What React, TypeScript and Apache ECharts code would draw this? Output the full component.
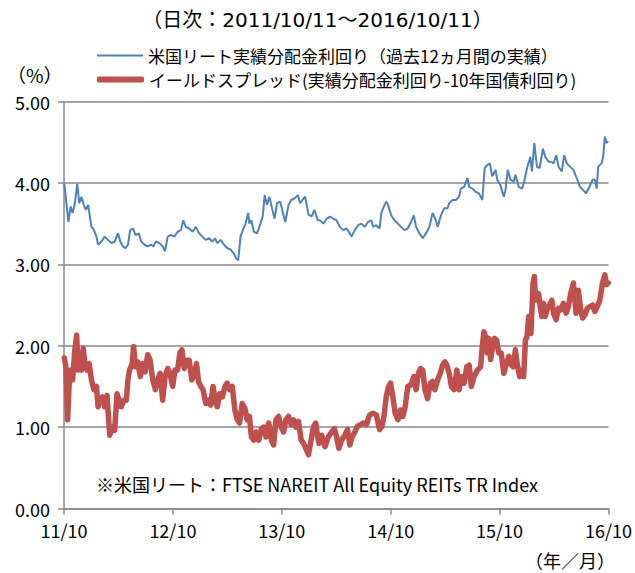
import { useEffect, useRef } from "react";
import * as echarts from "echarts";

// x = years elapsed since 2011/10/11
const xTickLabels = ["11/10", "12/10", "13/10", "14/10", "15/10", "16/10"];
const seriesNames = [
  "米国リート実績分配金利回り（過去12ヵ月間の実績）",
  "イールドスプレッド(実績分配金利回り-10年国債利回り)",
];
const titleText = "（日次：2011/10/11～2016/10/11）";
const noteText = "※米国リート：FTSE NAREIT All Equity REITs TR Index";
const unitY = "（%）";
const unitX = "（年／月）";

const reitYield: [number, number][] = [
  [0.0, 3.97], [0.003, 3.99], [0.024, 3.73], [0.04, 3.52], [0.061, 3.71], [0.079, 3.63],
  [0.1, 3.75], [0.122, 3.99], [0.14, 3.75], [0.161, 3.83], [0.182, 3.73], [0.201, 3.67],
  [0.222, 3.73], [0.237, 3.59], [0.252, 3.46], [0.268, 3.44], [0.298, 3.34], [0.313, 3.24],
  [0.344, 3.28], [0.374, 3.34], [0.404, 3.3], [0.435, 3.26], [0.465, 3.28], [0.496, 3.38],
  [0.517, 3.28], [0.541, 3.22], [0.566, 3.2], [0.587, 3.24], [0.608, 3.42], [0.633, 3.44],
  [0.657, 3.36], [0.687, 3.38], [0.709, 3.28], [0.739, 3.24], [0.769, 3.22], [0.8, 3.24],
  [0.821, 3.22], [0.845, 3.28], [0.876, 3.26], [0.906, 3.22], [0.928, 3.16], [0.952, 3.34],
  [0.982, 3.36], [1.013, 3.34], [1.043, 3.4], [1.074, 3.42], [1.095, 3.54], [1.119, 3.46],
  [1.15, 3.44], [1.18, 3.4], [1.21, 3.46], [1.241, 3.38], [1.271, 3.34], [1.302, 3.3],
  [1.332, 3.32], [1.363, 3.28], [1.387, 3.32], [1.408, 3.26], [1.439, 3.3], [1.469, 3.24],
  [1.499, 3.2], [1.53, 3.18], [1.56, 3.13], [1.582, 3.07], [1.6, 3.05], [1.621, 3.34],
  [1.642, 3.42], [1.667, 3.5], [1.691, 3.63], [1.703, 3.5], [1.721, 3.54], [1.743, 3.4],
  [1.773, 3.38], [1.804, 3.5], [1.825, 3.59], [1.843, 3.85], [1.864, 3.73], [1.886, 3.83],
  [1.91, 3.69], [1.934, 3.56], [1.956, 3.75], [1.986, 3.77], [2.007, 3.65], [2.032, 3.52],
  [2.062, 3.73], [2.086, 3.79], [2.117, 3.81], [2.147, 3.85], [2.168, 3.75], [2.19, 3.79],
  [2.214, 3.83], [2.245, 3.61], [2.275, 3.59], [2.299, 3.67], [2.33, 3.54], [2.351, 3.54],
  [2.381, 3.5], [2.412, 3.56], [2.442, 3.585], [2.473, 3.56], [2.503, 3.54], [2.533, 3.46],
  [2.564, 3.42], [2.594, 3.44], [2.625, 3.38], [2.64, 3.34], [2.67, 3.42], [2.701, 3.48],
  [2.731, 3.5], [2.762, 3.46], [2.792, 3.52], [2.822, 3.54], [2.838, 3.46], [2.868, 3.48],
  [2.898, 3.44], [2.914, 3.63], [2.944, 3.73], [2.959, 3.77], [2.975, 3.73], [3.005, 3.6],
  [3.035, 3.54], [3.066, 3.5], [3.096, 3.46], [3.127, 3.42], [3.157, 3.44], [3.187, 3.52],
  [3.212, 3.6], [3.233, 3.46], [3.263, 3.38], [3.294, 3.32], [3.324, 3.38], [3.355, 3.46],
  [3.385, 3.63], [3.415, 3.54], [3.431, 3.46], [3.461, 3.6], [3.492, 3.69], [3.522, 3.69],
  [3.537, 3.75], [3.568, 3.79], [3.598, 3.79], [3.628, 3.83], [3.644, 3.93], [3.674, 3.95],
  [3.704, 4.06], [3.72, 3.95], [3.75, 3.93], [3.781, 3.89], [3.811, 3.87], [3.841, 3.79],
  [3.863, 4.18], [3.887, 4.22], [3.911, 4.24], [3.932, 4.08], [3.963, 4.16], [3.978, 4.04],
  [4.008, 3.97], [4.039, 3.83], [4.054, 3.91], [4.075, 4.16], [4.1, 4.04], [4.13, 4.015],
  [4.145, 4.1], [4.176, 3.95], [4.206, 3.93], [4.221, 3.99], [4.252, 4.18], [4.282, 4.32],
  [4.297, 4.14], [4.319, 4.49], [4.343, 4.2], [4.367, 4.18], [4.398, 4.42], [4.419, 4.32],
  [4.45, 4.26], [4.471, 4.26], [4.495, 4.24], [4.52, 4.34], [4.541, 4.2], [4.571, 4.14],
  [4.593, 4.34], [4.617, 4.24], [4.647, 4.2], [4.678, 4.16], [4.708, 4.06], [4.739, 3.95],
  [4.769, 3.91], [4.793, 3.87], [4.824, 3.95], [4.854, 4.04], [4.875, 4.04], [4.891, 3.93],
  [4.906, 4.2], [4.936, 4.24], [4.951, 4.32], [4.967, 4.57], [4.982, 4.49], [4.997, 4.51],
];

const yieldSpread: [number, number][] = [
  [0.003, 1.85], [0.018, 1.74], [0.033, 1.09], [0.049, 1.58], [0.064, 1.7], [0.079, 1.58],
  [0.1, 1.95], [0.116, 2.13], [0.131, 1.7], [0.146, 1.87], [0.161, 1.7], [0.176, 1.97],
  [0.192, 1.78], [0.213, 1.7], [0.231, 1.78], [0.252, 1.58], [0.274, 1.46], [0.298, 1.5],
  [0.313, 1.25], [0.328, 1.33], [0.353, 1.37], [0.374, 1.25], [0.395, 1.39], [0.42, 0.9],
  [0.444, 1.0], [0.465, 0.96], [0.487, 1.41], [0.505, 1.33], [0.526, 1.25], [0.547, 1.33],
  [0.572, 1.33], [0.587, 1.58], [0.602, 1.7], [0.627, 1.78], [0.639, 1.99], [0.657, 1.74],
  [0.678, 1.8], [0.7, 1.62], [0.724, 1.78], [0.745, 1.68], [0.769, 1.89], [0.791, 1.82],
  [0.815, 1.58], [0.839, 1.46], [0.861, 1.58], [0.882, 1.66], [0.906, 1.33], [0.928, 1.62],
  [0.952, 1.72], [0.973, 1.66], [0.998, 1.5], [1.019, 1.7], [1.043, 1.7], [1.064, 1.91],
  [1.083, 1.95], [1.104, 1.72], [1.125, 1.82], [1.15, 1.82], [1.174, 1.58], [1.195, 1.64],
  [1.217, 1.78], [1.235, 1.56], [1.256, 1.5], [1.277, 1.46], [1.302, 1.29], [1.326, 1.33],
  [1.347, 1.27], [1.369, 1.5], [1.387, 1.33], [1.408, 1.25], [1.429, 1.41], [1.454, 1.37],
  [1.478, 1.5], [1.499, 1.54], [1.521, 1.46], [1.545, 1.5], [1.569, 1.21], [1.591, 1.09],
  [1.612, 1.05], [1.636, 1.29], [1.661, 1.23], [1.682, 1.09], [1.703, 1.13], [1.721, 0.88],
  [1.743, 0.84], [1.764, 0.94], [1.788, 0.84], [1.813, 0.98], [1.834, 1.0], [1.855, 0.88],
  [1.88, 1.05], [1.904, 0.84], [1.925, 0.78], [1.946, 1.09], [1.971, 1.13], [1.995, 1.0],
  [2.016, 0.94], [2.038, 1.09], [2.062, 1.13], [2.086, 1.03], [2.108, 1.09], [2.129, 1.0],
  [2.153, 1.07], [2.178, 0.84], [2.199, 0.8], [2.22, 0.74], [2.245, 0.66], [2.269, 0.84],
  [2.29, 1.0], [2.311, 1.05], [2.33, 0.88], [2.342, 0.8], [2.366, 0.9], [2.397, 0.76],
  [2.427, 0.88], [2.457, 0.94], [2.482, 0.98], [2.503, 0.88], [2.524, 0.74], [2.549, 0.84],
  [2.579, 0.9], [2.603, 0.97], [2.625, 0.78], [2.646, 0.88], [2.67, 0.94], [2.695, 1.01],
  [2.725, 1.03], [2.746, 1.05], [2.777, 1.03], [2.807, 1.15], [2.838, 1.17], [2.868, 1.15],
  [2.898, 0.97], [2.92, 1.01], [2.938, 1.13], [2.959, 1.37], [2.981, 1.5], [2.999, 1.54],
  [3.02, 1.37], [3.041, 1.17], [3.066, 1.09], [3.09, 1.21], [3.111, 1.13], [3.133, 1.25],
  [3.157, 1.5], [3.187, 1.52], [3.212, 1.62], [3.233, 1.46], [3.254, 1.66], [3.273, 1.72],
  [3.294, 1.7], [3.315, 1.46], [3.339, 1.35], [3.364, 1.54], [3.385, 1.56], [3.406, 1.46],
  [3.431, 1.58], [3.455, 1.66], [3.476, 1.76], [3.498, 1.8], [3.516, 1.76], [3.537, 1.66],
  [3.558, 1.5], [3.583, 1.46], [3.607, 1.7], [3.628, 1.46], [3.65, 1.62], [3.674, 1.54],
  [3.698, 1.74], [3.72, 1.76], [3.741, 1.5], [3.765, 1.62], [3.796, 1.7], [3.826, 1.74],
  [3.841, 1.99], [3.856, 2.17], [3.872, 2.11], [3.887, 1.91], [3.902, 2.09], [3.917, 1.83],
  [3.932, 1.95], [3.954, 2.09], [3.972, 2.07], [3.993, 1.91], [4.015, 1.91], [4.039, 1.66],
  [4.063, 1.78], [4.085, 1.87], [4.1, 1.78], [4.124, 1.74], [4.145, 1.95], [4.161, 1.78],
  [4.185, 1.62], [4.206, 1.7], [4.221, 1.62], [4.237, 2.07], [4.252, 2.11], [4.267, 2.36],
  [4.288, 2.15], [4.307, 2.77], [4.319, 2.85], [4.331, 2.56], [4.343, 2.6], [4.358, 2.64],
  [4.373, 2.48], [4.389, 2.36], [4.404, 2.52], [4.419, 2.36], [4.44, 2.46], [4.465, 2.52],
  [4.48, 2.56], [4.495, 2.4], [4.519, 2.32], [4.541, 2.46], [4.562, 2.44], [4.586, 2.52],
  [4.611, 2.4], [4.632, 2.48], [4.653, 2.64], [4.678, 2.77], [4.702, 2.4], [4.723, 2.68],
  [4.745, 2.44], [4.763, 2.34], [4.784, 2.38], [4.805, 2.46], [4.83, 2.48], [4.854, 2.5],
  [4.875, 2.42], [4.897, 2.48], [4.921, 2.56], [4.945, 2.77], [4.967, 2.87], [4.982, 2.75],
  [4.997, 2.77],
];

const FONT = '"Noto Sans CJK JP", "Noto Sans", sans-serif';
const TITLE_FONT = '"DejaVu Sans", "Noto Sans CJK JP", sans-serif';
const GRAY = "#888888";
const BLUE = "#4F81BD";
const RED = "#C0504D";

export default function App() {
  const ref = useRef<HTMLDivElement>(null);
  useEffect(() => {
    const chart = echarts.init(ref.current!, null, { renderer: "svg" });
    const legendText = { fontSize: 17, color: "#000", fontFamily: FONT };
    chart.setOption({
      animation: false,
      backgroundColor: "#ffffff",
      textStyle: { fontFamily: FONT, color: "#000" },
      title: {
        text: titleText,
        left: "center",
        top: 5,
        textStyle: { fontSize: 20, fontWeight: "normal", color: "#000", fontFamily: TITLE_FONT },
      },
      legend: [
        {
          left: 92,
          top: 42,
          itemWidth: 46,
          itemHeight: 2,
          icon: "rect",
          data: [seriesNames[0]],
          textStyle: legendText,
        },
        {
          left: 92,
          top: 66,
          itemWidth: 47,
          itemHeight: 6,
          icon: "roundRect",
          data: [seriesNames[1]],
          textStyle: legendText,
        },
      ],
      grid: { left: 64, right: 24, top: 101.5, bottom: 64.5, containLabel: false },
      xAxis: {
        type: "value",
        min: 0,
        max: 5,
        interval: 1,
        axisLine: { show: true, lineStyle: { color: GRAY, width: 1.5 } },
        axisTick: { show: true, length: 6, lineStyle: { color: GRAY, width: 1.5 } },
        splitLine: { show: false },
        axisLabel: {
          formatter: (v: number) => xTickLabels[Math.round(v)] ?? "",
          fontSize: 18,
          color: "#000",
          margin: 12,
          fontFamily: FONT,
        },
      },
      yAxis: {
        type: "value",
        min: 0,
        max: 5,
        interval: 1,
        axisLine: { show: true, lineStyle: { color: GRAY, width: 1.5 } },
        axisTick: { show: true, length: 6, lineStyle: { color: GRAY, width: 1.5 } },
        splitLine: { show: true, lineStyle: { color: GRAY, width: 1.5 } },
        axisLabel: {
          formatter: (v: number) => v.toFixed(2),
          fontSize: 18,
          color: "#000",
          margin: 14,
          fontFamily: FONT,
        },
      },
      graphic: [
        {
          type: "text",
          left: 7,
          top: 65,
          style: { text: unitY, fontSize: 19, fill: "#000", fontFamily: FONT },
        },
        {
          type: "text",
          left: 96,
          top: 475,
          style: { text: noteText, fontSize: 18, fill: "#000", fontFamily: FONT },
        },
        {
          type: "text",
          right: 20,
          top: 551,
          style: { text: unitX, fontSize: 18, fill: "#000", fontFamily: FONT },
        },
      ],
      series: [
        {
          name: seriesNames[0],
          type: "line",
          data: reitYield,
          showSymbol: false,
          symbol: "none",
          lineStyle: { color: BLUE, width: 2 },
          itemStyle: { color: BLUE },
          z: 3,
        },
        {
          name: seriesNames[1],
          type: "line",
          data: yieldSpread,
          showSymbol: false,
          symbol: "none",
          lineStyle: { color: RED, width: 5.5, cap: "round", join: "round" },
          itemStyle: { color: RED },
          z: 2,
        },
      ],
    });
    return () => chart.dispose();
  }, []);
  return (
    <div
      ref={ref}
      style={{ position: "fixed", left: 0, top: 0, width: 635, height: 573 }}
    />
  );
}
